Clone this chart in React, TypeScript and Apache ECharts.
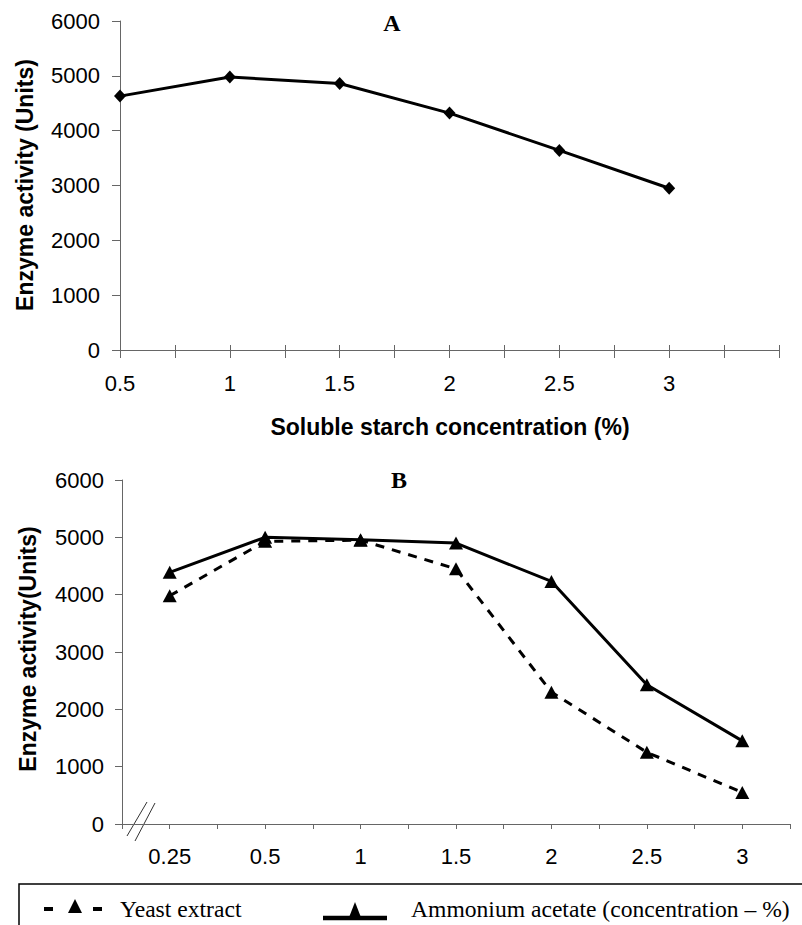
import React, { useEffect, useRef } from "react";
import * as echarts from "echarts";

// Chart A: soluble starch
const aX = [0.5, 1, 1.5, 2, 2.5, 3];
const aLabels = ["0.5", "1", "1.5", "2", "2.5", "3"];
const aActivity = [4630, 4980, 4860, 4320, 3640, 2950];

// Chart B: nitrogen sources
const bCategories = ["0.25", "0.5", "1", "1.5", "2", "2.5", "3"];
const yeastExtract = [3980, 4930, 4950, 4450, 2300, 1250, 550];
const ammoniumAcetate = [4390, 5000, 4960, 4900, 4230, 2430, 1450];

const yTicks = [0, 1000, 2000, 3000, 4000, 5000, 6000];

const SANS = '"Liberation Sans", Arial, sans-serif';
const SERIF = '"Liberation Serif", "Times New Roman", serif';
const AXIS_COLOR = "#666";

export default function App() {
  const ref = useRef<HTMLDivElement>(null);
  useEffect(() => {
    if (!ref.current) return;
    const chart = echarts.init(ref.current, null, { renderer: "svg" });
    const yMin = yTicks[0];
    const yMax = yTicks[yTicks.length - 1];
    const yInt = yTicks[1] - yTicks[0];

    const yAxisBase = (grid: number, margin: number, tickLen: number) => ({
      type: "value",
      gridIndex: grid,
      min: yMin,
      max: yMax,
      interval: yInt,
      splitLine: { show: false },
      axisLine: { show: true, lineStyle: { color: AXIS_COLOR, width: 1 } },
      axisTick: { show: true, length: tickLen, lineStyle: { color: AXIS_COLOR } },
      axisLabel: {
        color: "#000",
        fontFamily: SANS,
        fontSize: 22,
        margin,
        formatter: (v: number) => {
          const i = yTicks.findIndex((t) => Math.abs(t - v) < 1e-6);
          return i >= 0 ? String(yTicks[i]) : "";
        },
      },
    });

    const option: any = {
      animation: false,
      backgroundColor: "#fff",
      grid: [
        { left: 120, right: 23, top: 21, bottom: 575 },
        { left: 122, right: 12, top: 480, bottom: 101 },
      ],
      xAxis: [
        {
          type: "value",
          gridIndex: 0,
          min: 0.5,
          max: 3.5,
          interval: 0.25,
          splitLine: { show: false },
          axisLine: { show: true, onZero: false, lineStyle: { color: AXIS_COLOR } },
          axisTick: { show: true, length: 8, lineStyle: { color: AXIS_COLOR } },
          axisLabel: {
            color: "#000",
            fontFamily: SANS,
            fontSize: 22,
            margin: 22,
            formatter: (v: number) => {
              const i = aX.findIndex((x) => Math.abs(x - v) < 1e-6);
              return i >= 0 ? aLabels[i] : "";
            },
          },
        },
        {
          type: "value",
          gridIndex: 0,
          position: "bottom",
          min: 0.5,
          max: 3.5,
          interval: 0.25,
          splitLine: { show: false },
          axisLine: { show: false },
          axisTick: { show: true, inside: true, length: 5, lineStyle: { color: AXIS_COLOR } },
          axisLabel: { show: false },
        },
        {
          type: "value",
          gridIndex: 1,
          min: 0,
          max: bCategories.length,
          interval: 0.5,
          splitLine: { show: false },
          axisLine: { show: true, onZero: false, lineStyle: { color: AXIS_COLOR } },
          axisTick: { show: true, length: 5, lineStyle: { color: AXIS_COLOR } },
          axisLabel: {
            color: "#000",
            fontFamily: SANS,
            fontSize: 22,
            margin: 21,
            formatter: (v: number) => {
              const idx = v - 0.5;
              const r = Math.round(idx);
              if (Math.abs(idx - r) < 1e-6 && r >= 0 && r < bCategories.length) return bCategories[r];
              return "";
            },
          },
        },
      ],
      yAxis: [yAxisBase(0, 20, 8), yAxisBase(1, 18, 7)],
      series: [
        {
          name: "Soluble starch",
          type: "line",
          xAxisIndex: 0,
          yAxisIndex: 0,
          data: aX.map((x, i) => [x, aActivity[i]]),
          symbol: "diamond",
          symbolSize: [12, 13],
          lineStyle: { color: "#000", width: 3 },
          itemStyle: { color: "#000" },
        },
        {
          name: "Yeast extract",
          type: "line",
          xAxisIndex: 2,
          yAxisIndex: 1,
          data: bCategories.map((_, i) => [i + 0.5, yeastExtract[i]]),
          symbol: "triangle",
          symbolSize: [14, 13],
          lineStyle: { color: "#000", width: 3, type: [9, 8] },
          itemStyle: { color: "#000" },
        },
        {
          name: "Ammonium acetate",
          type: "line",
          xAxisIndex: 2,
          yAxisIndex: 1,
          data: bCategories.map((_, i) => [i + 0.5, ammoniumAcetate[i]]),
          symbol: "triangle",
          symbolSize: [14, 13],
          lineStyle: { color: "#000", width: 3 },
          itemStyle: { color: "#000" },
        },
      ],
      graphic: [
        // Panel titles
        { type: "text", x: 392, y: 23, style: { text: "A", font: `bold 24px ${SERIF}`, fill: "#000", textAlign: "center", textVerticalAlign: "middle" } },
        { type: "text", x: 399, y: 480, style: { text: "B", font: `bold 24px ${SERIF}`, fill: "#000", textAlign: "center", textVerticalAlign: "middle" } },
        // Axis titles
        { type: "text", x: 25, y: 185, rotation: Math.PI / 2, style: { text: "Enzyme activity (Units)", font: `bold 23px ${SANS}`, fill: "#000", textAlign: "center", textVerticalAlign: "middle" } },
        { type: "text", x: 450, y: 427, style: { text: "Soluble starch concentration (%)", font: `bold 23px ${SANS}`, fill: "#000", textAlign: "center", textVerticalAlign: "middle" } },
        { type: "text", x: 28, y: 649, rotation: Math.PI / 2, style: { text: "Enzyme activity(Units)", font: `bold 23px ${SANS}`, fill: "#000", textAlign: "center", textVerticalAlign: "middle" } },
        // Axis break marks
        { type: "line", shape: { x1: 127, y1: 836, x2: 147, y2: 802 }, style: { stroke: "#333", lineWidth: 1 } },
        { type: "line", shape: { x1: 135, y1: 841, x2: 155, y2: 803 }, style: { stroke: "#333", lineWidth: 1 } },
        // Legend box
        { type: "rect", shape: { x: 19, y: 884, width: 800, height: 60 }, style: { fill: "none", stroke: "#000", lineWidth: 1.5 } },
        // Yeast extract symbol
        { type: "rect", shape: { x: 44, y: 907, width: 9, height: 4 }, style: { fill: "#000" } },
        { type: "rect", shape: { x: 93, y: 907, width: 9, height: 4 }, style: { fill: "#000" } },
        { type: "polygon", shape: { points: [[68, 913], [82, 913], [75, 899]] }, style: { fill: "#000" } },
        { type: "text", x: 120, y: 909, style: { text: "Yeast extract", font: `23.6px ${SERIF}`, fill: "#000", textAlign: "left", textVerticalAlign: "middle" } },
        // Ammonium acetate symbol
        { type: "line", shape: { x1: 323, y1: 918, x2: 387, y2: 918 }, style: { stroke: "#000", lineWidth: 4.5 } },
        { type: "polygon", shape: { points: [[348, 920], [362, 920], [355, 902]] }, style: { fill: "#000" } },
        { type: "text", x: 411, y: 909, style: { text: "Ammonium acetate (concentration \u2013 %)", font: `23.6px ${SERIF}`, fill: "#000", textAlign: "left", textVerticalAlign: "middle" } },
      ],
    };
    chart.setOption(option);
    return () => chart.dispose();
  }, []);
  return (
    <div
      ref={ref}
      style={{ position: "absolute", left: 0, top: 0, width: 802, height: 925, background: "#fff" }}
    />
  );
}
